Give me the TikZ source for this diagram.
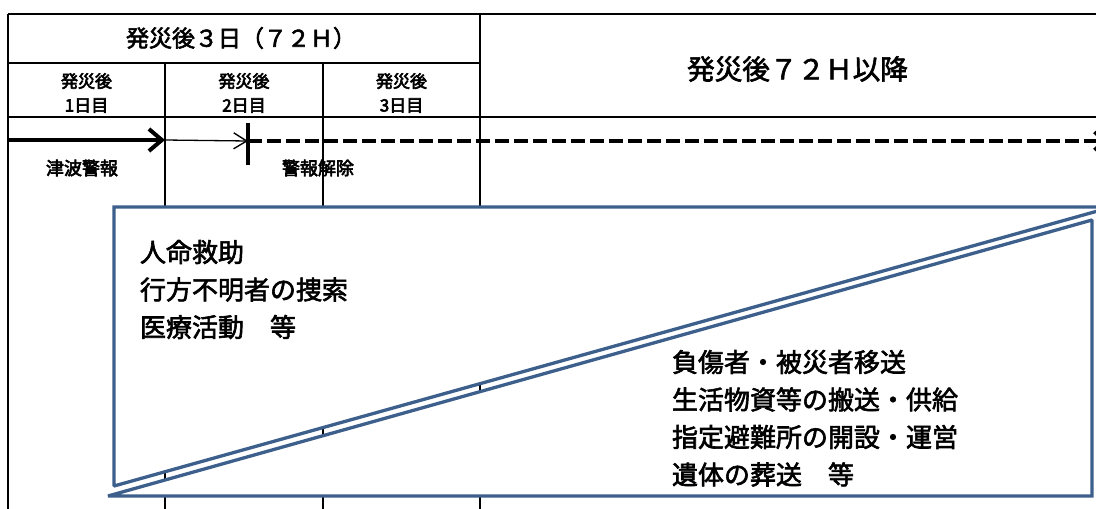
\documentclass[tikz,border=0pt]{standalone}
\usepackage{fontspec}
\setmainfont{Noto Sans CJK JP}
\usetikzlibrary{arrows.meta}
\definecolor{boxblue}{RGB}{61,95,140}
\newcommand{\heavytext}{\special{pdf:literal direct 2 Tr 0.6 w}}
\begin{document}
\begin{tikzpicture}[x=1pt,y=-1pt,
  gridthick/.style={line width=2.6pt,black},
  gridthin/.style={line width=1.7pt,black},
  tri/.style={draw=boxblue,line width=3.3pt,fill=white,line join=miter,miter limit=1.5},
  txt/.style={inner sep=0pt,outer sep=0pt,text=black,execute at begin node=\heavytext},
  hdrA/.style={txt,font=\fontsize{23}{28}\selectfont},
  hdrB/.style={txt,font=\fontsize{27.6}{32}\selectfont},
  subhdr/.style={txt,align=center,font=\fontsize{17}{24}\selectfont},
  warn/.style={txt,font=\fontsize{18}{22}\selectfont},
  task/.style={txt,align=left,anchor=north west,font=\fontsize{26}{37.5}\selectfont},
  thickarrow/.style={line width=4.6pt,-{Straight Barb[length=13pt,width=22pt,line width=4pt]}},
  thinarrow/.style={line width=1.3pt,-{Straight Barb[length=13pt,width=16pt,line width=1.4pt]}},
  dasharrow/.style={line width=4pt,dash pattern=on 14pt off 5pt,-{Straight Barb[length=10pt,width=18pt,line width=3.5pt]}}
]
\useasboundingbox (0,0) rectangle (1096,509);
\fill[white] (0,0) rectangle (1096,509);

% table grid
\coordinate (tl) at (8,14);
\coordinate (tr) at (1096,14);
\coordinate (bl) at (8,509);
\draw[gridthick] (tl) -- (tr);
\draw[gridthick] (tl) -- (bl);
\draw[gridthin] (8,63) -- (480,63);
\draw[gridthick] (8,117) -- (1096,117);
\draw[gridthin] (165,63) -- (165,509);
\draw[gridthin] (323,63) -- (323,509);
\draw[gridthick] (480,14) -- (480,509);

% headers
\node[hdrA] (h3d) at (241,38) {発災後３日（７２Ｈ）};
\node[hdrB] (h72) at (797.5,69) {発災後７２Ｈ以降};
\node[subhdr] (d1) at (86.5,93) {発災後\\1日目};
\node[subhdr] (d2) at (244,93) {発災後\\2日目};
\node[subhdr] (d3) at (401.5,93) {発災後\\3日目};

% warning timeline
\coordinate (tsS) at (8,140);
\coordinate (tsM) at (165,140);
\coordinate (tick) at (248,141);
\coordinate (tickT) at (248,123);
\coordinate (tickB) at (248,165);
\coordinate (dashE) at (1107,141);
\draw[thickarrow] (tsS) -- (tsM);
\draw[thinarrow] (tsM) -- (tick);
\draw[dasharrow] (tick) -- (dashE);
\draw[line width=3.6pt] (tickT) -- (tickB);
\node[warn] (tsunami) at (82,168) {津波警報};
\node[warn] (release) at (318,168) {警報解除};

% phase triangles
\draw[tri] (114,207) -- (1112,207) -- (114,486) -- cycle;
\draw[tri] (108,496) -- (1092,220) -- (1092,496) -- cycle;

\node[task] (early) at (140,240) {人命救助\\行方不明者の捜索\\医療活動　等};
\node[task] (late) at (672,350) {負傷者・被災者移送\\生活物資等の搬送・供給\\指定避難所の開設・運営\\遺体の葬送　等};
\end{tikzpicture}
\end{document}
